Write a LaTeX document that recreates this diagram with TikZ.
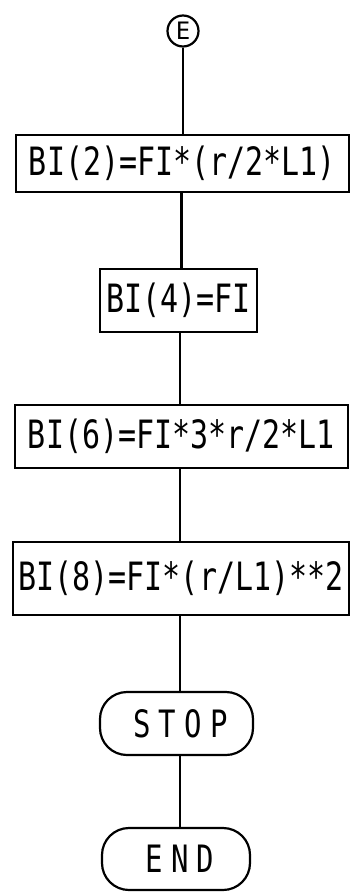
\documentclass[tikz,border=0pt]{standalone}
\usepackage{fontspec}
\usepackage{graphicx}
\newfontfamily\lettering{DejaVu Sans Mono}
\newcommand{\tallt}[1]{\scalebox{1}[1.3]{#1}}
\begin{document}
\begin{tikzpicture}[x=1pt,y=-1pt,
  line width=2.2pt,
  procbox/.style={draw,rectangle,inner sep=0pt,font=\lettering\fontsize{30}{32}\selectfont},
  term/.style={draw,rectangle,rounded corners=27pt,inner sep=0pt,font=\lettering\fontsize{29}{30}\selectfont\addfontfeature{LetterSpace=28}},
  conn/.style={draw,circle,inner sep=0pt,minimum size=31pt,font=\lettering\fontsize{24}{25}\selectfont}]
\useasboundingbox (0,0) rectangle (350,893);
\node[conn] (E) at (183,31) {E};
\node[procbox,minimum width=333pt,minimum height=57pt] (b1) at (182.5,163.5) {\tallt{BI(2)=FI*(r/2*L1)}};
\node[procbox,minimum width=157pt,minimum height=63pt] (b2) at (178.5,300.5) {\tallt{BI(4)=FI}};
\node[procbox,minimum width=333pt,minimum height=63pt] (b3) at (181.5,436.5) {\tallt{BI(6)=FI*3*r/2*L1}};
\node[procbox,minimum width=336pt,minimum height=73pt] (b4) at (181,578.5) {\tallt{BI(8)=FI*(r/L1)**2}};
\node[term,minimum width=153pt,minimum height=63pt] (stop) at (176.5,723.5) {\hspace*{8pt}\tallt{STOP}};
\node[term,minimum width=148pt,minimum height=62pt] (end) at (176,859) {\hspace*{8pt}\tallt{END}};
\draw (E) -- (E |- b1.north);
\draw (b1.south) ++(-1,0) coordinate (c1) -- (c1 |- b2.north);
\draw (b2.south) ++(1.5,0) coordinate (c2) -- (c2 |- b3.north);
\draw (b3.south) ++(-1.5,0) coordinate (c3) -- (c3 |- b4.north);
\draw (b4.south) ++(-1,0) coordinate (c4) -- (c4 |- stop.north);
\draw (stop.south) ++(3.5,0) coordinate (c5) -- (c5 |- end.north);
\end{tikzpicture}
\end{document}
